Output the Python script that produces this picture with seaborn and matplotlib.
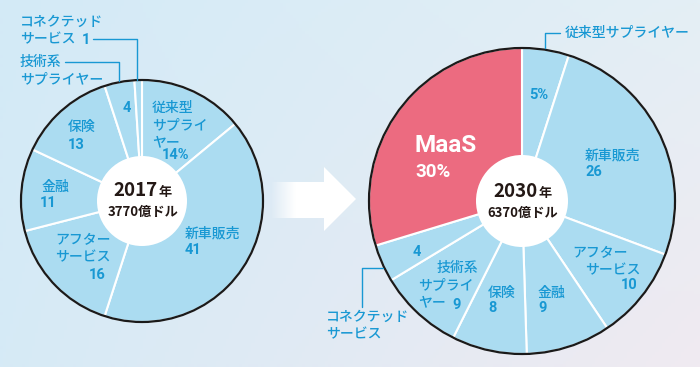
import numpy as np
import matplotlib
matplotlib.use("Agg")
import matplotlib.pyplot as plt
import seaborn as sns
from matplotlib.patches import Circle, Polygon

sns.set_theme(style="white")
plt.rcParams['font.family'] = ['Noto Sans CJK JP', 'DejaVu Sans']

# --- data ---
left_names = ["従来型\nサプライ\nヤー", "新車販売", "アフター\nサービス", "金融", "保険",
              "技術系\nサプライヤー", "コネクテッド\nサービス"]
left_values = [14, 41, 16, 11, 13, 4, 1]
left_value_text = ["14%", "41", "16", "11", "13", "4", "1"]

right_names = ["従来型サプライヤー", "新車販売", "アフター\nサービス", "金融", "保険",
               "技術系\nサプライ\nヤー", "コネクテッド\nサービス", "MaaS"]
right_values = [5, 26, 10, 9, 8, 9, 4, 30]
right_value_text = ["5%", "26", "10", "9", "8", "9", "4", "30%"]

left_center_text = ["2017", "年", "3770億ドル"]
right_center_text = ["2030", "年", "6370億ドル"]

# --- styling / layout ---
W, H = 700, 367
BLUE_TXT = "#1898d3"
SLICE = "#abdcf1"
MAAS = "#ec6b80"
STEP = 17

# per slice: (name x, name y of first line, [x offsets per line]), (value x, value y, ha)
left_layout = [
    ((152, 108, [0, 0, 0]), (162, 155, "left")),
    ((185, 233, [0]), (185, 250, "left")),
    ((55, 240, [0, 0]), (106, 275, "right")),
    ((42, 187, [0]), (40, 203, "left")),
    ((68, 127, [0]), (68, 145, "left")),
    ((20, 62, [0, 0]), (123, 108, "left")),
    ((20, 22, [0, 0]), (82, 40, "left")),
]
right_layout = [
    ((565, 33, [0]), (529, 95, "left")),
    ((585, 155, [0]), (585, 172, "left")),
    ((572, 253, [0, 13]), (638, 285, "right")),
    ((538, 293, [0]), (538, 308, "left")),
    ((488, 293, [0]), (488, 308, "left")),
    ((437, 268, [0, -19, -19]), (452, 305, "left")),
    ((326, 317, [0, 0]), (413, 252, "left")),
]

fig = plt.figure(figsize=(7.0, 3.67), dpi=100)
ax = fig.add_axes([0, 0, 1, 1])

# background gradient
yy, xx = np.mgrid[0:1:120j, 0:1:220j]
tl = np.array([211, 234, 247]) / 255
tr = np.array([228, 239, 245]) / 255
bl = np.array([214, 234, 246]) / 255
br = np.array([240, 234, 241]) / 255
bg = ((1 - xx) * (1 - yy))[..., None] * tl + (xx * (1 - yy))[..., None] * tr \
    + ((1 - xx) * yy)[..., None] * bl + (xx * yy)[..., None] * br
ax.imshow(bg, extent=(0, W, H, 0), aspect="auto", zorder=0)


def draw_pie(values, colors, cx, cy, r, hole):
    ax.pie(values, colors=colors, startangle=-90, counterclock=True,
           center=(cx, cy), radius=r,
           wedgeprops=dict(edgecolor="white", linewidth=1.5, zorder=2))
    ax.add_patch(Circle((cx, cy), r, fill=False, edgecolor="#1a1a1a", lw=1.6, zorder=3))
    ax.add_patch(Circle((cx, cy), hole, facecolor="white", edgecolor="none", zorder=4))


def draw_labels(names, vals, layout):
    for name, val, ((nx, ny, offs), (vx, vy, vha)) in zip(names, vals, layout):
        for i, line in enumerate(name.split("\n")):
            ax.text(nx + offs[i], ny + i * STEP, line, color=BLUE_TXT, fontsize=10,
                    fontweight="medium", ha="left", va="center", zorder=5)
        ax.text(vx, vy, val, color=BLUE_TXT, fontsize=10.5, fontweight="bold",
                ha=vha, va="center", family=["Roboto", "DejaVu Sans"], zorder=5)


def draw_center(texts, cx, base1, base2):
    ax.text(cx + 16, base1, texts[0], fontsize=13.5, fontweight="bold", color="#231815",
            ha="right", va="baseline", zorder=6)
    ax.text(cx + 17, base1, texts[1], fontsize=9.5, fontweight="bold", color="#231815",
            ha="left", va="baseline", zorder=6)
    ax.text(cx + 1, base2, texts[2], fontsize=9.5, fontweight="bold", color="#231815",
            ha="center", va="baseline", zorder=6)


# left pie (2017)
draw_pie(left_values, [SLICE] * len(left_values), 142, 201, 121, 45)
draw_labels(left_names, left_value_text, left_layout)
draw_center(left_center_text, 142, 196, 216)

# right pie (2030)
right_colors = [SLICE] * (len(right_values) - 1) + [MAAS]
draw_pie(right_values, right_colors, 522, 201, 153, 46)
draw_labels(right_names[:-1], right_value_text[:-1], right_layout)
ax.text(415, 145, right_names[-1], color="white", fontsize=17.5, fontweight="bold",
        ha="left", va="center", family=["Roboto", "DejaVu Sans"], zorder=5)
ax.text(415, 172, right_value_text[-1], color="white", fontsize=13.5, fontweight="bold",
        ha="left", va="center", family=["Roboto", "DejaVu Sans"], zorder=5)
draw_center(right_center_text, 522, 197, 217)

# leader lines
for pts in ([(93, 39), (137, 39), (137, 80)],
            [(65, 62), (119, 62), (119, 81)],
            [(560, 33), (545, 33), (545, 48)],
            [(383, 268), (362, 268), (362, 307)]):
    xs, ys = zip(*pts)
    ax.plot(xs, ys, color=BLUE_TXT, lw=1.0, zorder=5)

# arrow with faded tail
ramp = np.ones((2, 60, 4))
ramp[..., 3] = np.clip(np.linspace(-0.1, 2.2, 60), 0, 1)
ax.imshow(ramp, extent=(268, 325, 218, 182), aspect="auto", zorder=1)
ax.add_patch(Polygon([(324, 167), (356, 199), (324, 231)], closed=True,
                     facecolor="white", edgecolor="none", zorder=1))

ax.set_xlim(0, W)
ax.set_ylim(H, 0)
ax.set_aspect("auto")
ax.axis("off")

fig.savefig("out.png", dpi=100)
